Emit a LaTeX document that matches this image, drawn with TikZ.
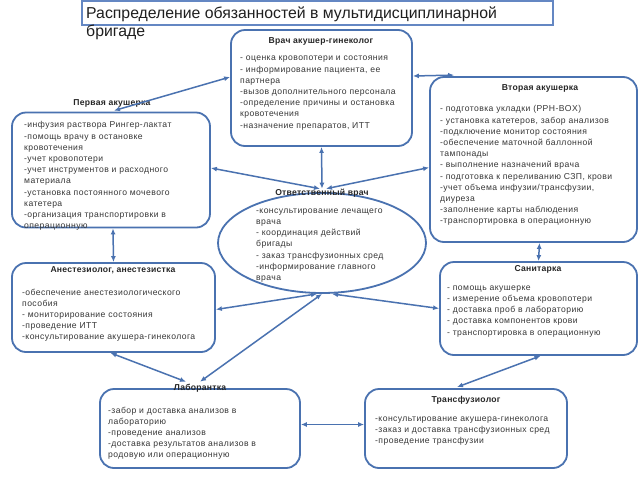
\documentclass[tikz,border=0pt]{standalone}
\usepackage{fontspec}
\setmainfont{Liberation Sans}
\newfontfamily\bodyf[LetterSpace=5]{Liberation Sans}
\newfontfamily\ttlf[LetterSpace=3]{Liberation Sans}
\usetikzlibrary{arrows.meta,shapes.geometric,calc}
\definecolor{bord}{RGB}{74,114,176}
\definecolor{tbord}{RGB}{100,135,195}
\definecolor{txt}{RGB}{55,55,55}
\begin{document}
\begin{tikzpicture}[x=1pt,y=-1pt,
  box/.style={draw=bord,line width=1.8pt,rounded corners=14pt,inner sep=0pt},
  tx/.style={anchor=north west,align=left,inner sep=0pt,text=txt,font=\bodyf\fontsize{8.6}{11.2}\selectfont},
  ttl/.style={inner sep=0pt,text=black!85,font=\ttlf\fontsize{8.6}{11.2}\selectfont\bfseries},
  conn/.style={draw=bord,line width=1.5pt,{Latex[length=6pt,width=5pt]}-{Latex[length=6pt,width=5pt]}}]
\useasboundingbox (0,0) rectangle (640,480);
\fill[white] (0,0) rectangle (640,480);
% title
\node[draw=tbord,line width=1.2pt,minimum width=471pt,minimum height=24pt,inner sep=0pt] (titlebox) at (317.5,13) {};
\node[anchor=north west,align=left,inner sep=0pt,text=black!88,font=\fontsize{15.8}{18.5}\selectfont] (titletxt) at (86,6.5) {Распределение обязанностей в мультидисциплинарной\\бригаде};
% boxes
\node[box,minimum width=181pt,minimum height=116pt] (vrach) at (321.5,88) {};
\node[box,minimum width=198pt,minimum height=115pt] (akush1) at (111,170) {};
\node[box,minimum width=207pt,minimum height=165pt] (akush2) at (533.5,159.5) {};
\node[draw=bord,line width=1.8pt,ellipse,minimum width=208pt,minimum height=100pt,inner sep=0pt] (otv) at (322,243) {};
\node[box,minimum width=203pt,minimum height=89pt] (anest) at (113.5,307.5) {};
\node[box,minimum width=197pt,minimum height=93pt] (sanit) at (538.5,308.5) {};
\node[box,minimum width=200pt,minimum height=79pt] (labor) at (200,428.5) {};
\node[box,minimum width=202pt,minimum height=79pt] (transf) at (466,428.5) {};
% titles
\node[ttl] (vrachttl) at (321,41) {Врач акушер-гинеколог};
\node[ttl] (akush1ttl) at (112,103) {Первая акушерка};
\node[ttl] (akush2ttl) at (540,88) {Вторая акушерка};
\node[ttl] (otvttl) at (322,193) {Ответственный врач};
\node[ttl] (anestttl) at (113,270) {Анестезиолог, анестезистка};
\node[ttl] (sanitttl) at (538,269) {Санитарка};
\node[ttl] (laborttl) at (200,388) {Лаборантка};
\node[ttl] (transfttl) at (466,400) {Трансфузиолог};
% texts
\node[tx] (vrachtxt) at (240,56) {- оценка кровопотери и состояния\\- информирование пациента, ее\\партнера\\-вызов дополнительного персонала\\-определение причины и остановка\\кровотечения\\-назначение препаратов, ИТТ};
\node[tx] (akush1txt) at (24,121.5) {-инфузия раствора Рингер-лактат\\-помощь врачу в остановке\\кровотечения\\-учет кровопотери\\-учет инструментов и расходного\\материала\\-установка постоянного мочевого\\катетера\\-организация транспортировки в\\операционную};
\node[tx] (akush2txt) at (440,105.5) {- подготовка укладки (PPH-BOX)\\- установка катетеров, забор анализов\\-подключение монитор состояния\\-обеспечение маточной баллонной\\тампонады\\- выполнение назначений врача\\- подготовка к переливанию СЗП, крови\\-учет объема инфузии/трансфузии,\\диуреза\\-заполнение карты наблюдения\\-транспортировка в операционную};
\node[tx] (otvtxt) at (256,208.5) {-консультирование лечащего\\врача\\- координация действий\\бригады\\- заказ трансфузионных сред\\-информирование главного\\врача};
\node[tx] (anesttxt) at (22,288.5) {-обеспечение анестезиологического\\пособия\\- мониторирование состояния\\-проведение ИТТ\\-консультирование акушера-гинеколога};
\node[tx] (sanittxt) at (447,285.5) {- помощь акушерке\\- измерение объема кровопотери\\- доставка проб в лабораторию\\- доставка компонентов крови\\- транспортировка в операционную};
\node[tx] (labortxt) at (108,406.5) {-забор и доставка анализов в\\лабораторию\\-проведение анализов\\-доставка результатов анализов в\\родовую или операционную};
\node[tx] (transftxt) at (375,416.5) {-консультирование акушера-гинеколога\\-заказ и доставка трансфузионных сред\\-проведение трансфузии};
% connectors
\draw[conn] ([yshift=11pt]vrach.west) -- ([xshift=3pt,yshift=1pt]akush1.north);
\draw[conn] ([yshift=12pt]vrach.east) -- ([xshift=25pt,yshift=1pt]akush2.north west);
\draw[conn] (vrach.south) -- (otvttl.north);
\draw[conn] ([yshift=2pt]akush1.east) -- ([xshift=-2pt]otvttl.north);
\draw[conn] ([yshift=-8pt]akush2.west) -- ([xshift=4pt]otvttl.north);
\draw[conn] ([xshift=2pt]akush1.south) -- (anest.north);
\draw[conn] ([xshift=6pt]akush2.south) -- (sanit.north);
\draw[conn] ([yshift=-2pt]anest.east) -- ([xshift=-5pt]otv.south);
\draw[conn] ([xshift=10pt]otv.south) -- (sanit.west);
\draw[conn] (otv.south) -- ([yshift=2pt]laborttl.north);
\draw[conn] ([xshift=-3pt]anest.south) -- ([xshift=-14pt,yshift=2pt]laborttl.north);
\draw[conn] ([yshift=4pt]labor.east) -- ([yshift=4pt]transf.west);
\draw[conn] ([xshift=2pt]sanit.south) -- ([xshift=-9pt,yshift=1pt]transf.north);
\end{tikzpicture}
\end{document}
